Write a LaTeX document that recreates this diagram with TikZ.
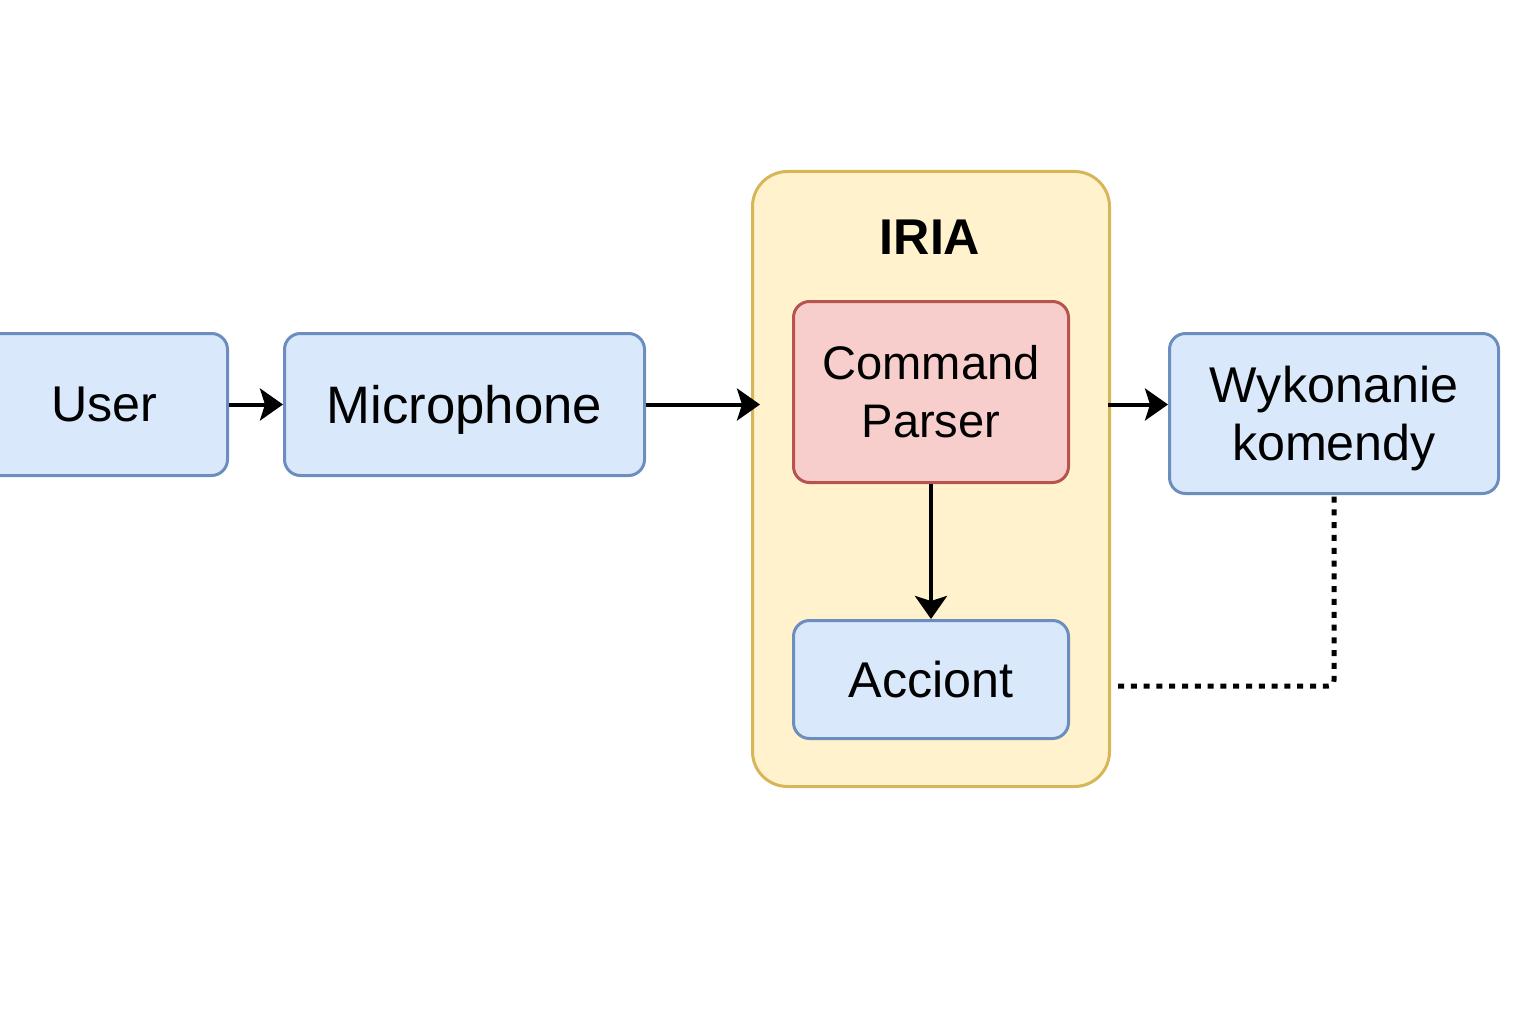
\documentclass[tikz,border=0pt]{standalone}
\usepackage{fontspec}
\setmainfont{Liberation Sans}
\usepackage{tikz}
\usetikzlibrary{arrows.meta}

\definecolor{boxblue}{HTML}{DAE8FC}
\definecolor{lineblue}{HTML}{6C8EBF}
\definecolor{boxred}{HTML}{F8CECC}
\definecolor{linered}{HTML}{B85450}
\definecolor{boxyellow}{HTML}{FFF2CC}
\definecolor{lineyellow}{HTML}{D6B656}

\tikzset{
  blockfont/.style={font=\fontsize{14.3}{16.5}\selectfont},
  bluebox/.style={rectangle, draw=lineblue, fill=boxblue, line width=0.03cm, rounded corners=0.16cm, align=center, blockfont, anchor=south west},
  redbox/.style={rectangle, draw=linered, fill=boxred, line width=0.03cm, rounded corners=0.16cm, align=center, anchor=south west},
  flow/.style={black, line width=0.04cm, -{Stealth[length=0.23cm, width=0.32cm, inset=0.05cm]}},
}

\begin{document}
\begin{tikzpicture}
\clip (0,0) rectangle (15.36,10.24);

%outer IRIA block
\node at (7.51,2.36)[rectangle, draw=lineyellow, fill=boxyellow, line width=0.03cm, rounded corners=0.35cm, minimum width=3.57cm, minimum height=6.15cm, anchor=south west] (iria) {};
\node at (9.30,7.87)[font=\bfseries\fontsize{14.3}{16.5}\selectfont] (irialabel) {IRIA};

\node at (-0.20,5.47)[bluebox, minimum width=2.46cm, minimum height=1.42cm] (user) {User};
\node at (2.83,5.47)[bluebox, minimum width=3.60cm, minimum height=1.42cm, font=\fontsize{15.0}{16.5}\selectfont, text depth=0pt] (mic) {Microphone};
\node at (7.92,5.40)[redbox, minimum width=2.75cm, minimum height=1.81cm, font=\fontsize{13.4}{16.5}\selectfont] (parser) {Command\\Parser};
\node at (7.92,2.84)[bluebox, minimum width=2.75cm, minimum height=1.18cm] (acc) {Acciont};
\node at (11.68,5.29)[bluebox, minimum width=3.29cm, minimum height=1.60cm, text depth=0pt] (wyk) {Wykonanie\\komendy};

\draw[flow] (user.east) -- (mic.west);
\draw[flow] (mic.east) -- ([xshift=0.09cm]iria.west |- mic);
\draw[flow] ([xshift=-0.03cm]iria.east |- mic) -- (wyk.west |- mic);
\draw[flow] (parser.south) -- (acc.north);

\coordinate (dotstart) at ([xshift=0.07cm]iria.east |- 0,3.38);
\draw[black, line width=0.05cm, dash pattern=on 0.06cm off 0.068cm, rounded corners=0.06cm] (dotstart) -| (wyk.south);
\end{tikzpicture}
\end{document}
